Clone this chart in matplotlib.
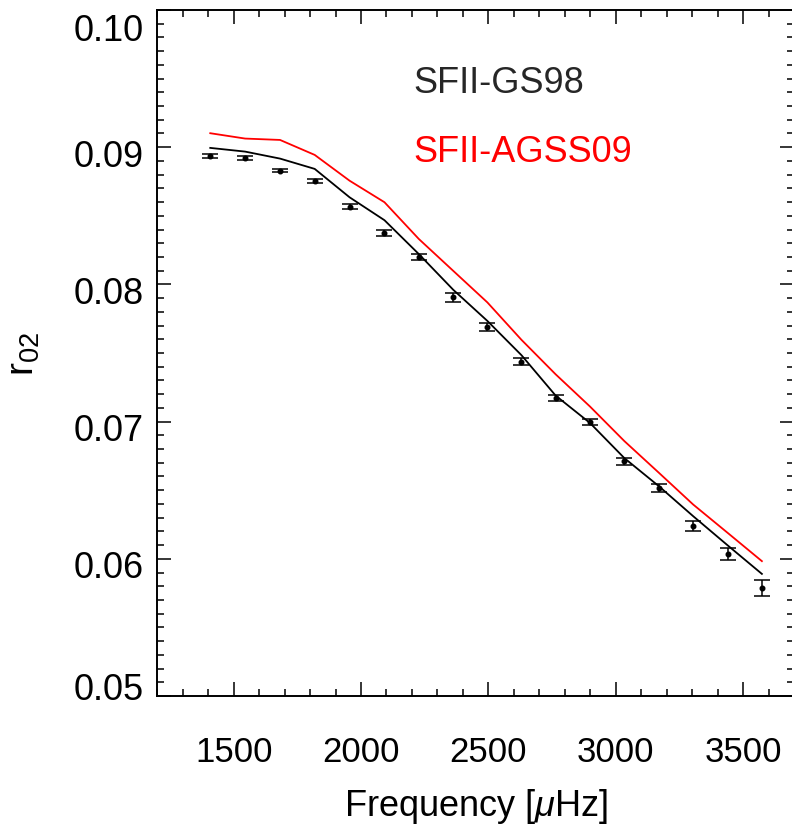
import matplotlib
matplotlib.use("Agg")
import matplotlib.pyplot as plt
from matplotlib.ticker import MultipleLocator
from matplotlib.transforms import ScaledTranslation

# ---------------------------------------------------------------------------
# Data
# ---------------------------------------------------------------------------
freq = [1408, 1545, 1682, 1818, 1955, 2092, 2227, 2362, 2496,
        2630, 2764, 2899, 3034, 3169, 3304, 3439, 3574]

r02_obs = [0.08936, 0.08922, 0.08829, 0.08752, 0.08566, 0.08373, 0.08201,
           0.07905, 0.07691, 0.07438, 0.07171, 0.06995, 0.06710, 0.06518,
           0.06236, 0.06034, 0.05785]
r02_err = [0.00012, 0.00012, 0.00013, 0.00016, 0.00017, 0.00020, 0.00020,
           0.00032, 0.00027, 0.00028, 0.00024, 0.00023, 0.00024, 0.00030,
           0.00036, 0.00046, 0.00058]

r02_gs98 = [0.08995, 0.08968, 0.08917, 0.08842, 0.08635, 0.08468, 0.08221,
            0.07961, 0.07734, 0.07484, 0.07190, 0.06990, 0.06734, 0.06530,
            0.06311, 0.06099, 0.05890]
r02_agss09 = [0.09102, 0.09063, 0.09053, 0.08944, 0.08756, 0.08599, 0.08331,
              0.08099, 0.07869, 0.07596, 0.07345, 0.07110, 0.06858, 0.06628,
              0.06396, 0.06190, 0.05983]

# ---------------------------------------------------------------------------
# Style
# ---------------------------------------------------------------------------
plt.rcParams["font.family"] = ["Liberation Sans", "DejaVu Sans"]
plt.rcParams["mathtext.fontset"] = "custom"
plt.rcParams["mathtext.rm"] = "Liberation Sans"
plt.rcParams["mathtext.it"] = "Liberation Sans:italic"

fig = plt.figure(figsize=(7.92, 8.28), dpi=100)
ax = fig.add_axes([0.1986, 0.1582, 0.8039, 0.8285])

ax.plot(freq, r02_agss09, color="red", lw=1.3)
ax.plot(freq, r02_gs98, color="black", lw=1.3)
ax.errorbar(freq, r02_obs, yerr=r02_err, fmt="o", color="black",
            ms=3.3, elinewidth=1.1, capsize=5.8, capthick=1.1)

ax.text(0.4016, 0.8805, "SFII-GS98", transform=ax.transAxes,
        color="#262626", fontsize=26, va="baseline", ha="left")
ax.text(0.4016, 0.780, "SFII-AGSS09", transform=ax.transAxes,
        color="red", fontsize=26, va="baseline", ha="left")

ax.set_xlim(1200, 3700)
ax.set_ylim(0.05, 0.10)
ax.xaxis.set_major_locator(MultipleLocator(500))
ax.xaxis.set_minor_locator(MultipleLocator(100))
ax.yaxis.set_major_locator(MultipleLocator(0.01))
ax.yaxis.set_minor_locator(MultipleLocator(0.001))
ax.yaxis.set_major_formatter(plt.FormatStrFormatter("%.2f"))

ax.tick_params(which="both", direction="in", top=True, right=True,
               width=1.1)
ax.tick_params(which="major", length=10)
ax.tick_params(which="minor", length=5)
ax.tick_params(axis="x", which="major", pad=28, labelsize=25)
ax.tick_params(axis="y", which="major", pad=10, labelsize=26)
for sp in ax.spines.values():
    sp.set_linewidth(1.4)

# IDL-style label placement: end labels pulled inside, others sit a bit low
shift_px = {0.05: -11, 0.10: 16}
ylocs = ax.yaxis.get_majorticklocs()
for loc, tick in zip(ylocs, ax.yaxis.get_major_ticks(len(ylocs))):
    dy = shift_px.get(round(float(loc), 2), 5)
    off = ScaledTranslation(0, -dy / 100, fig.dpi_scale_trans)
    tick.label1.set_transform(tick.label1.get_transform() + off)

ax.set_xlabel(r"Frequency [$\mu$Hz]", fontsize=26)
ax.set_ylabel(r"r$_{02}$", fontsize=28)
ax.xaxis.set_label_coords(0.5, -0.131)
ax.yaxis.set_label_coords(-0.181, 0.5)

fig.savefig("out.png", dpi=100)
